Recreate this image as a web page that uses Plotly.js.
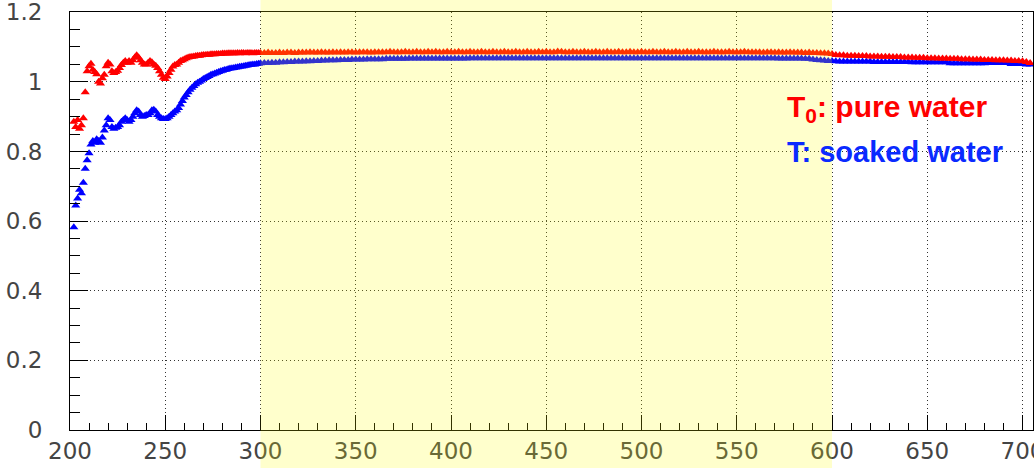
<!DOCTYPE html>
<html>
<head>
<meta charset="utf-8">
<script src="https://cdn.plot.ly/plotly-3.0.1.min.js"></script>
<style>html,body{margin:0;padding:0;background:#fff;}#chart{width:1034px;height:468px;}</style>
</head>
<body>
<div id="chart"></div>
<script>
// wavelengths (nm), 1 nm steps in the UV part
const wlA = [202,203,204,205,206,207,208,209,210,211,
212,213,214,215,216,217,218,219,220,221,
222,223,224,225,226,227,228,229,230,231,
232,233,234,235,236,237,238,239,240,241,
242,243,244,245,246,247,248,249,250,251,
252,253,254,255,256,257,258,259,260,261,
262,263,264,265,266,267,268,269,270,271,
272,273,274,275,276,277,278,279,280,281,
282,283,284,285,286,287,288,289,290,291,
292,293,294,295,296,297,298,299,300];
// wavelengths (nm), 2 nm steps
const wlB = [302,304,306,308,310,312,314,316,318,320,
322,324,326,328,330,332,334,336,338,340,
342,344,346,348,350,352,354,356,358,360,
362,364,366,368,370,372,374,376,378,380,
382,384,386,388,390,392,394,396,398,400,
402,404,406,408,410,412,414,416,418,420,
422,424,426,428,430,432,434,436,438,440,
442,444,446,448,450,452,454,456,458,460,
462,464,466,468,470,472,474,476,478,480,
482,484,486,488,490,492,494,496,498,500,
502,504,506,508,510,512,514,516,518,520,
522,524,526,528,530,532,534,536,538,540,
542,544,546,548,550,552,554,556,558,560,
562,564,566,568,570,572,574,576,578,580,
582,584,586,588,590,592,594,596,598,600,
602,604,606,608,610,612,614,616,618,620,
622,624,626,628,630,632,634,636,638,640,
642,644,646,648,650,652,654,656,658,660,
662,664,666,668,670,672,674,676,678,680,
682,684,686,688,690,692,694,696,698,700,
702,704];

// T0: pure water
const pureA = [0.885,0.870,0.890,0.865,0.875,0.895,0.970,1.030,1.045,1.052,
1.035,1.028,1.022,1.000,0.995,1.010,1.020,1.045,1.055,1.050,
1.030,1.025,1.028,1.032,1.040,1.048,1.055,1.060,1.055,1.060,
1.055,1.062,1.070,1.076,1.070,1.062,1.055,1.050,1.050,1.055,
1.060,1.056,1.050,1.046,1.040,1.030,1.020,1.012,1.008,1.015,
1.025,1.035,1.044,1.048,1.050,1.055,1.060,1.062,1.065,1.068,
1.070,1.071,1.072,1.073,1.074,1.075,1.075,1.076,1.077,1.077,
1.078,1.078,1.079,1.079,1.079,1.080,1.080,1.080,1.081,1.081,
1.081,1.082,1.082,1.082,1.082,1.082,1.083,1.082,1.083,1.083,
1.082,1.083,1.083,1.083,1.082,1.083,1.083,1.083,1.083];
const pureB = [1.083,1.084,1.083,1.083,1.084,1.083,1.084,1.084,1.083,1.084,
1.084,1.084,1.085,1.084,1.084,1.085,1.084,1.084,1.085,1.084,
1.085,1.084,1.085,1.085,1.084,1.085,1.085,1.085,1.084,1.085,
1.085,1.085,1.085,1.086,1.085,1.085,1.085,1.086,1.085,1.085,
1.086,1.085,1.085,1.086,1.085,1.086,1.085,1.085,1.086,1.085,
1.085,1.086,1.085,1.085,1.086,1.085,1.085,1.086,1.085,1.085,
1.086,1.085,1.085,1.086,1.085,1.085,1.086,1.085,1.085,1.086,
1.085,1.085,1.086,1.085,1.086,1.085,1.085,1.087,1.086,1.085,
1.085,1.086,1.085,1.085,1.086,1.085,1.085,1.086,1.085,1.085,
1.086,1.085,1.085,1.086,1.085,1.085,1.086,1.085,1.085,1.086,
1.085,1.085,1.086,1.085,1.085,1.086,1.085,1.085,1.086,1.085,
1.085,1.086,1.085,1.085,1.086,1.085,1.085,1.085,1.086,1.085,
1.085,1.085,1.086,1.085,1.085,1.085,1.086,1.085,1.085,1.085,
1.085,1.084,1.085,1.085,1.084,1.085,1.084,1.084,1.085,1.084,
1.084,1.084,1.083,1.084,1.083,1.083,1.082,1.082,1.081,1.080,
1.077,1.076,1.076,1.075,1.075,1.075,1.074,1.074,1.074,1.073,
1.073,1.073,1.072,1.072,1.072,1.071,1.071,1.071,1.070,1.070,
1.070,1.069,1.069,1.069,1.068,1.068,1.068,1.067,1.067,1.067,
1.066,1.066,1.066,1.065,1.065,1.065,1.064,1.064,1.064,1.063,
1.063,1.063,1.062,1.062,1.062,1.061,1.061,1.060,1.060,1.059,
1.057,1.054];

// T: soaked water
const soakA = [0.582,0.645,0.665,0.690,0.680,0.710,0.750,0.775,0.795,0.820,
0.830,0.825,0.835,0.830,0.825,0.840,0.860,0.875,0.895,0.890,
0.870,0.865,0.868,0.870,0.875,0.885,0.890,0.895,0.890,0.885,
0.890,0.900,0.910,0.918,0.915,0.905,0.900,0.902,0.905,0.905,
0.910,0.918,0.920,0.915,0.905,0.900,0.895,0.893,0.893,0.895,
0.900,0.905,0.910,0.915,0.918,0.925,0.935,0.945,0.955,0.962,
0.970,0.977,0.983,0.988,0.993,0.997,1.000,1.004,1.008,1.011,
1.014,1.017,1.020,1.022,1.024,1.026,1.028,1.030,1.032,1.034,
1.035,1.037,1.038,1.039,1.040,1.041,1.042,1.043,1.044,1.045,
1.046,1.047,1.048,1.049,1.050,1.050,1.051,1.052,1.053];
const soakB = [1.054,1.054,1.055,1.055,1.056,1.056,1.057,1.057,1.058,1.058,
1.058,1.059,1.059,1.060,1.060,1.061,1.061,1.062,1.062,1.062,
1.063,1.063,1.063,1.064,1.064,1.064,1.064,1.065,1.065,1.065,
1.065,1.065,1.066,1.066,1.066,1.066,1.066,1.066,1.067,1.067,
1.067,1.067,1.067,1.067,1.067,1.067,1.067,1.067,1.067,1.067,
1.067,1.067,1.067,1.067,1.068,1.068,1.068,1.068,1.068,1.068,
1.068,1.068,1.068,1.068,1.068,1.068,1.068,1.068,1.068,1.068,
1.068,1.068,1.068,1.068,1.068,1.068,1.068,1.068,1.068,1.068,
1.068,1.068,1.068,1.068,1.068,1.068,1.068,1.068,1.068,1.068,
1.068,1.068,1.068,1.068,1.068,1.068,1.068,1.068,1.068,1.068,
1.068,1.068,1.068,1.068,1.068,1.068,1.068,1.068,1.068,1.068,
1.068,1.068,1.068,1.068,1.068,1.068,1.068,1.068,1.068,1.068,
1.068,1.068,1.068,1.068,1.068,1.068,1.068,1.068,1.068,1.068,
1.068,1.068,1.068,1.068,1.068,1.067,1.067,1.067,1.067,1.067,
1.067,1.067,1.066,1.066,1.064,1.063,1.062,1.061,1.060,1.060,
1.059,1.058,1.058,1.058,1.058,1.058,1.058,1.058,1.058,1.058,
1.057,1.057,1.057,1.057,1.057,1.057,1.057,1.057,1.057,1.057,
1.056,1.056,1.056,1.056,1.056,1.056,1.056,1.056,1.056,1.056,
1.053,1.053,1.053,1.053,1.053,1.053,1.053,1.053,1.053,1.053,
1.054,1.054,1.054,1.054,1.054,1.054,1.051,1.051,1.051,1.051,
1.050,1.050];

const xTickVals = [200,250,300,350,400,450,500,550,600,650,700];
const yTickVals = [0,0.2,0.4,0.6,0.8,1,1.2];
const highlightBand = [300,600];
const labelPure = 'T<sub>0</sub>: pure water';
const labelSoak = 'T: soaked water';

const wl = wlA.concat(wlB);
const pure = pureA.concat(pureB);
const soak = soakA.concat(soakB);

const tickFont = {family: 'DejaVu Sans, sans-serif', size: 23, color: '#444'};
const gridDash = '1px,3px';

const traces = [
  {x: wl, y: soak, type: 'scatter', mode: 'markers', name: labelSoak,
   marker: {symbol: 'triangle-up', size: 8, color: '#0000ff', line: {width: 0}}},
  {x: wl, y: pure, type: 'scatter', mode: 'markers', name: labelPure,
   marker: {symbol: 'triangle-up', size: 8, color: '#ff0000', line: {width: 0}}}
];

const legendFont = "'Liberation Sans', Arial, sans-serif";

const layout = {
  width: 1034, height: 468,
  margin: {l: 70, r: 1, t: 12, b: 38},
  paper_bgcolor: '#ffffff', plot_bgcolor: '#ffffff',
  showlegend: false,
  xaxis: {
    range: [200, 705.5], tickvals: xTickVals, ticks: 'inside', ticklen: 15, tickwidth: 1, tickcolor: '#000',
    showline: true, linecolor: '#000', linewidth: 1, mirror: true,
    showgrid: true, gridcolor: '#333', griddash: gridDash, gridwidth: 1, zeroline: false,
    tickfont: tickFont, ticklabelstandoff: 0, ticklabeloverflow: 'allow',
    minor: {dtick: 10, tick0: 200, ticks: 'inside', ticklen: 7, tickcolor: '#000', showgrid: false}
  },
  yaxis: {
    range: [0, 1.2005], tickvals: yTickVals, ticks: 'inside', ticklen: 18, tickwidth: 1, tickcolor: '#000',
    showline: true, linecolor: '#000', linewidth: 1, mirror: true,
    showgrid: true, gridcolor: '#333', griddash: gridDash, gridwidth: 1, zeroline: false,
    tickfont: tickFont, ticklabelstandoff: 22, ticklabeloverflow: 'allow',
    minor: {dtick: 0.05, tick0: 0, ticks: 'inside', ticklen: 10, tickcolor: '#000', showgrid: false}
  },
  shapes: [
    {type: 'rect', xref: 'x', yref: 'paper', x0: highlightBand[0], x1: highlightBand[1], y0: -0.2, y1: 1.1,
     fillcolor: 'rgb(255,255,0)', opacity: 0.2, line: {width: 0}, layer: 'above'}
  ],
  annotations: [
    {xref: 'paper', yref: 'paper', x: 0.7425, y: 0.77, xanchor: 'left', yanchor: 'middle', showarrow: false,
     text: '<b>' + labelPure + '</b>', font: {family: legendFont, size: 30, color: '#ff0000'}},
    {xref: 'paper', yref: 'paper', x: 0.7425, y: 0.665, xanchor: 'left', yanchor: 'middle', showarrow: false,
     text: '<b>' + labelSoak + '</b>', font: {family: legendFont, size: 29, color: '#0a2aff'}}
  ]
};

Plotly.newPlot('chart', traces, layout, {displayModeBar: false, staticPlot: true});
</script>
</body>
</html>
